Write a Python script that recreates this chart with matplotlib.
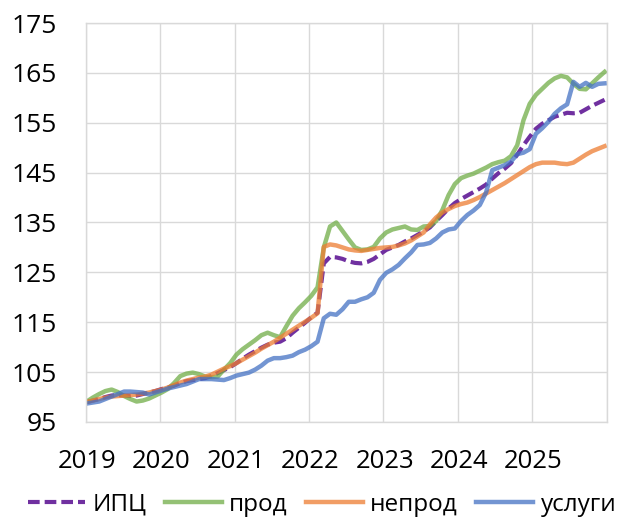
import numpy as np
import matplotlib
matplotlib.use("Agg")
import matplotlib.pyplot as plt

plt.rcParams['font.family'] = ['Open Sans', 'DejaVu Sans']

# monthly index values, Jan 2019 .. Dec 2025
cpi = [99.0, 99.3, 99.6, 100.0, 100.3, 100.4, 100.3, 100.2, 100.3, 100.6, 100.9, 101.2,
       101.6, 101.9, 102.3, 102.8, 103.2, 103.4, 103.6, 103.8, 104.2, 104.8, 105.4, 106.0,
       106.8, 107.7, 108.5, 109.2, 109.9, 110.5, 110.9, 111.1, 111.8, 112.9, 113.9, 114.9,
       116.0, 116.9, 126.8, 128.1, 128.0, 127.7, 127.2, 126.9, 126.8, 127.1, 127.7, 128.6,
       129.5, 130.0, 130.5, 131.2, 131.8, 132.5, 133.2, 134.0, 135.3, 136.5, 137.8, 138.9,
       139.7, 140.4, 141.1, 141.8, 142.6, 143.8, 144.9, 145.8, 146.9, 148.6, 150.5, 152.2,
       153.8, 154.8, 155.5, 156.2, 156.6, 157.0, 156.9, 157.0, 157.7, 158.4, 159.0, 159.6]

food = [99.1, 99.9, 100.6, 101.2, 101.5, 101.0, 100.2, 99.6, 99.1, 99.3, 99.7, 100.3,
        100.9, 101.6, 102.8, 104.2, 104.7, 104.9, 104.6, 104.1, 104.0, 104.1, 105.5, 106.8,
        108.5, 109.6, 110.5, 111.4, 112.4, 112.9, 112.4, 112.0, 114.2, 116.3, 117.8, 119.0,
        120.3, 122.0, 130.0, 134.2, 135.0, 133.3, 131.6, 130.0, 129.5, 129.6, 130.1, 131.8,
        133.0, 133.6, 133.9, 134.2, 133.6, 133.5, 134.2, 134.3, 135.3, 137.5, 140.5, 142.7,
        143.9, 144.4, 144.8, 145.4, 146.0, 146.7, 147.1, 147.4, 148.3, 150.5, 155.5, 158.8,
        160.6, 161.8, 163.0, 163.9, 164.4, 164.1, 162.8, 161.8, 161.7, 162.9, 164.1, 165.2]

nonfood = [99.0, 99.3, 99.6, 99.9, 100.1, 100.2, 100.3, 100.4, 100.5, 100.7, 100.9, 101.2,
           101.5, 101.9, 102.4, 102.9, 103.3, 103.6, 103.9, 104.1, 104.5, 105.1, 105.7, 106.2,
           106.8, 107.5, 108.2, 108.9, 109.7, 110.4, 111.1, 111.9, 112.7, 113.5, 114.3, 115.1,
           115.9, 116.8, 130.1, 130.6, 130.4, 130.0, 129.6, 129.4, 129.3, 129.5, 129.7, 129.9,
           130.0, 130.1, 130.4, 130.8, 131.4, 132.2, 133.0, 134.6, 136.0, 137.0, 137.7, 138.3,
           138.7, 139.0, 139.5, 140.1, 140.8, 141.5, 142.2, 142.9, 143.7, 144.5, 145.3, 146.1,
           146.7, 147.0, 147.0, 147.0, 146.8, 146.7, 147.0, 147.8, 148.6, 149.3, 149.8, 150.3]

services = [98.7, 98.9, 99.1, 99.6, 100.1, 100.6, 101.1, 101.1, 101.0, 100.9, 100.5, 100.9,
            101.3, 101.7, 102.0, 102.3, 102.6, 103.1, 103.6, 103.6, 103.6, 103.5, 103.4, 103.8,
            104.3, 104.6, 104.9, 105.5, 106.3, 107.3, 107.8, 107.8, 108.0, 108.3, 109.0, 109.5,
            110.2, 111.1, 115.8, 116.7, 116.5, 117.6, 119.1, 119.1, 119.6, 120.0, 120.9, 123.5,
            124.9, 125.6, 126.5, 127.8, 129.0, 130.5, 130.6, 130.9, 131.8, 133.0, 133.6, 133.8,
            135.3, 136.5, 137.4, 138.5, 141.0, 145.5, 146.0, 146.5, 147.2, 148.7, 149.0, 149.7,
            152.8, 153.9, 155.2, 156.8, 157.9, 158.7, 163.2, 162.2, 163.0, 162.2, 162.8, 162.9]

years = ['2019', '2020', '2021', '2022', '2023', '2024', '2025']
yticks = list(range(95, 176, 10))

months = np.arange(len(cpi))

fig = plt.figure(figsize=(6.24, 5.17), dpi=100)
ax = fig.add_axes([0.1373, 0.1838, 0.835, 0.7717])

ax.plot(months, cpi, color='#7030A0', lw=3, linestyle=(0, (2.8, 1.2)), label='ИПЦ')
ax.plot(months, food, color='#70AD47', alpha=0.75, lw=3.2, label='прод')
ax.plot(months, nonfood, color='#ED7D31', alpha=0.75, lw=3.2, label='непрод')
ax.plot(months, services, color='#4472C4', alpha=0.75, lw=3.2, label='услуги')

# data fill the plot edge to edge; one gridline per year
x0, x1 = -0.16, 83.34
grid_x = np.linspace(x0, x1, 8)
ax.set_xlim(x0, x1)
ax.set_ylim(95, 175)
ax.set_yticks(yticks)
ax.set_xticks(grid_x)
ax.set_xticklabels([])
ax.tick_params(length=0, labelsize=19, pad=21)
ax.grid(True, color='#D9D9D9', lw=1.0)
for s in ax.spines.values():
    s.set_color('#D9D9D9')
    s.set_linewidth(1.0)

for gx, yr in zip(grid_x, years):
    ax.text(gx + 0.2, -0.098, yr, transform=ax.get_xaxis_transform(),
            ha='center', va='center', fontsize=18.5, clip_on=False)

fig.legend(loc='center left', bbox_to_anchor=(0.045, 0.024), ncol=4, frameon=False,
           fontsize=17.5, handlelength=2.35, handletextpad=0.3, columnspacing=0.75,
           borderpad=0, borderaxespad=0)

fig.savefig('out.png', dpi=100)
